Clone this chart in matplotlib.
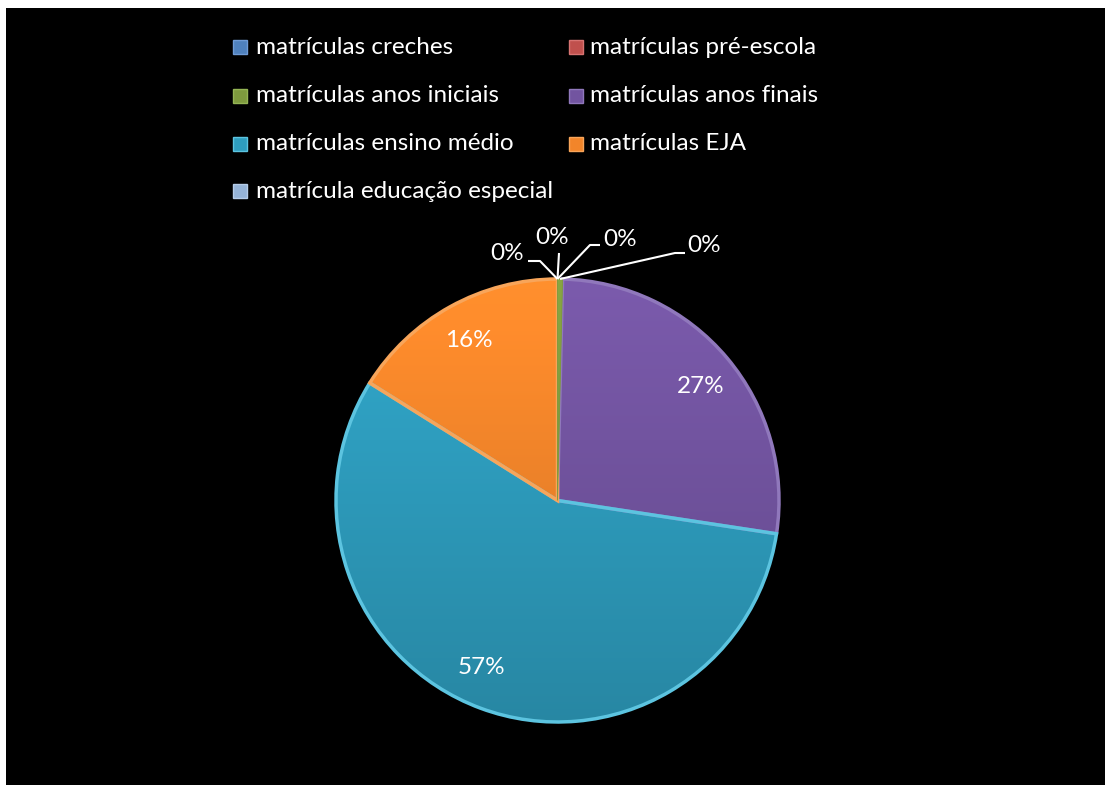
import matplotlib
matplotlib.use("Agg")
import matplotlib.pyplot as plt
from matplotlib.patches import Rectangle, Wedge
from matplotlib.colors import to_rgb
import numpy as np

categories = ["matrículas creches", "matrículas pré-escola", "matrículas anos iniciais",
              "matrículas anos finais", "matrículas ensino médio", "matrículas EJA",
              "matrícula educação especial"]
values = [0, 0, 12, 890, 1860, 530, 0]
pct_labels = ["0%", "0%", "0%", "27%", "57%", "16%", "0%"]
colors = ["#4F81BD", "#C0504D", "#7E9A3E", "#7254A0", "#2E9DBE", "#F2852A", "#95B3D7"]
edge_colors = ["#6F9BD6", "#D87472", "#94B454", "#9078BC", "#5CC4E0", "#F8A55A", "#B5CCE8"]

W, H = 1105, 785
fig = plt.figure(figsize=(W / 100, H / 100), dpi=100, facecolor="white")
fig.patches.append(Rectangle((6 / W, 0), 1 - 6 / W, 1 - 8 / H, transform=fig.transFigure,
                             facecolor="black", edgecolor="none", zorder=-10))

FONT = ["Lato", "DejaVu Sans"]
fs = 17.5

cx, cy, r = 557.5, 500.5, 221.5
ax = fig.add_axes([(cx - r) / W, (H - cy - r) / H, 2 * r / W, 2 * r / H], zorder=5)
ax.set_facecolor("none")
wedges, _ = ax.pie(values, colors=colors, startangle=90, counterclock=False, radius=1,
                   wedgeprops=dict(linewidth=0))

# soft vertical shading clipped to each slice (lighter top, darker bottom)
yy = np.linspace(1, -1, 300)[:, None] * np.ones((1, 2))
shade = np.interp(yy, [-1, 1], [0.86, 1.08])
total = sum(values)
for w, v, c, ec in zip(wedges, values, colors, edge_colors):
    w.set_clip_on(False)
    if v <= 0:
        w.set_linewidth(0)
        continue
    big = v / total > 0.02
    base = np.array(to_rgb(c))
    img = np.clip(shade[..., None] * base[None, None, :], 0, 1)
    zb = 1.5 if big else 3.5
    im = ax.imshow(img, extent=(-1, 1, -1, 1), origin="upper", aspect="auto",
                   interpolation="bilinear", zorder=zb)
    im.set_clip_path(w)
    w.set_linewidth(0)
    w.set_zorder(1 if big else 3)
    w.set_facecolor(c)
    e = Wedge(w.center, w.r, w.theta1, w.theta2, facecolor="none",
              edgecolor=ec if big else c, linewidth=2.5 if big else 0.6,
              zorder=2 if big else 3.6)
    e.set_clip_on(False)
    ax.add_patch(e)
ax.set_xlim(-1, 1)
ax.set_ylim(-1, 1)
ax.set_aspect("equal")
ax.axis("off")

def px2d(x, y):
    return (x - cx) / r, (cy - y) / r

# inside labels for non-zero slices
inside_pos = {3: (701, 386), 4: (481, 667), 5: (469, 340)}
# leader labels for tiny slices: (text position, elbow, elbow end)
leader = {
    6: ((507, 253), (540, 261), (528, 261)),
    0: ((552, 237), (559, 253), (559, 253)),
    1: ((620, 239), (590, 245), (600, 245)),
    2: ((704, 245), (675, 253), (685, 253)),
}
for i, w in enumerate(wedges):
    if i in inside_pos:
        x, y = px2d(*inside_pos[i])
        ax.text(x, y, pct_labels[i], color="white", fontsize=fs, family=FONT,
                ha="center", va="center", zorder=4)
    elif i in leader:
        tp, e1, e2 = leader[i]
        th = np.deg2rad((w.theta1 + w.theta2) / 2)
        ax0, ay0 = np.cos(th), np.sin(th)
        xs = [ax0, px2d(*e1)[0], px2d(*e2)[0]]
        ys = [ay0, px2d(*e1)[1], px2d(*e2)[1]]
        ax.plot(xs, ys, color="white", lw=1.5, clip_on=False, solid_capstyle="butt", zorder=4)
        x, y = px2d(*tp)
        ax.text(x, y, pct_labels[i], color="white", fontsize=fs, family=FONT,
                ha="center", va="center", zorder=4)

# legend
col_x = [240, 576]
text_x = [256, 590]
row_y = [47, 96, 144, 191]
for i, (lab, c) in enumerate(zip(categories, colors)):
    col, row = i % 2, i // 2
    mx, my = col_x[col], row_y[row]
    fig.patches.append(Rectangle(((mx - 7) / W, (H - my - 7) / H), 14 / W, 14 / H,
                                 transform=fig.transFigure, facecolor=c,
                                 edgecolor=edge_colors[i], linewidth=1, zorder=3))
    fig.text(text_x[col] / W, (H - my) / H, lab, color="white", fontsize=fs, family=FONT,
             ha="left", va="center")

fig.savefig("out.png", dpi=100, facecolor=fig.get_facecolor())
